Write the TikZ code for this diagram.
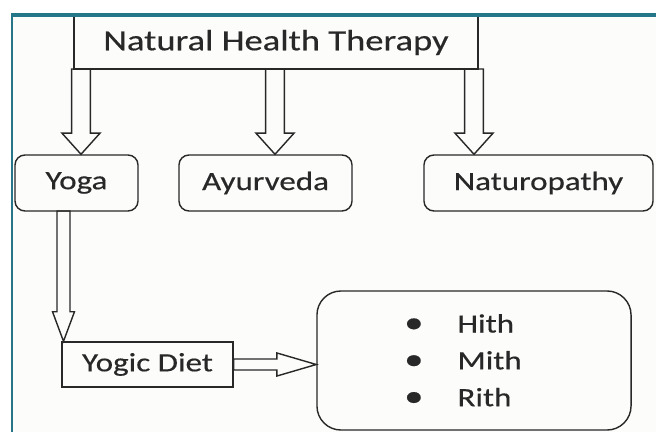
\documentclass[tikz,border=0pt]{standalone}
\usepackage{fontspec}
\setmainfont{Carlito}[FakeStretch=1.25,FakeBold=0.4]
\usetikzlibrary{calc}
\definecolor{frameteal}{RGB}{38,118,138}
\definecolor{ink}{RGB}{40,40,40}
\definecolor{paper}{RGB}{252,252,250}
\tikzset{
  box/.style={draw=ink, line width=1pt, rounded corners=2.5mm, minimum height=1.4cm,
    inner sep=0pt, text=ink, font=\fontsize{18.8}{22}\selectfont},
  sqbox/.style={box, sharp corners},
  hollow/.style n args={3}{draw=ink, line width=1pt, line join=miter, to path={
    ($(\tikztostart)!#1!90:(\tikztotarget)$)
    -- ($(\tikztotarget)!#3!(\tikztostart)!#1!-90:(\tikztostart)$)
    -- ($(\tikztotarget)!#3!(\tikztostart)!#2!-90:(\tikztostart)$)
    -- (\tikztotarget)
    -- ($(\tikztotarget)!#3!(\tikztostart)!#2!90:(\tikztostart)$)
    -- ($(\tikztotarget)!#3!(\tikztostart)!#1!90:(\tikztostart)$)
    -- ($(\tikztostart)!#1!-90:(\tikztotarget)$) -- cycle}}
}
\begin{document}
\begin{tikzpicture}[x=0.025cm,y=-0.025cm]
  \useasboundingbox (0,0) rectangle (656,432);
  \fill[paper] (12,15) rectangle (656,432);
  % Boxes
  \node[sqbox, minimum width=10.1cm, minimum height=1.325cm, font=\fontsize{20.8}{24}\selectfont] (title) at (276,42.5) {Natural Health Therapy\hspace{0.25cm}};
  \node[box, minimum width=3.075cm] (yoga) at (76.5,183) {Yoga};
  \node[box, minimum width=4.325cm] (ayur) at (265.5,183) {Ayurveda};
  \node[box, minimum width=5.725cm] (natu) at (538.5,183) {Naturopathy};
  \node[sqbox, minimum width=4.275cm, minimum height=1.125cm] (diet) at (147.5,364.5) {\raisebox{-0.12cm}{Yogic Diet}};
  \node[box, rounded corners=6mm, minimum width=7.85cm, minimum height=3.475cm] (list) at (474,360.5) {};
  \node[text=ink, font=\fontsize{18.8}{26.2}\selectfont] (items) at (463,362)
    {\begin{tabular}{@{}c@{\hspace{0.85cm}}l@{}}
       {\fontsize{22}{22}\selectfont •} & Hith\\
       {\fontsize{22}{22}\selectfont •} & Mith\\
       {\fontsize{22}{22}\selectfont •} & Rith
     \end{tabular}};
  % Arrows
  \coordinate (a1) at (81,69);
  \coordinate (a2) at (275,69);
  \coordinate (a3) at (474,69);
  \coordinate (y1) at (63.5,211);
  \draw[hollow={6.7pt}{13.5pt}{15pt}] (a1) to (yoga.north -| a1);
  \draw[hollow={6.7pt}{13.5pt}{15pt}] (a2) to (ayur.north -| a2);
  \draw[hollow={6.7pt}{13.5pt}{15pt}] (a3) to (natu.north -| a3);
  \draw[hollow={4.6pt}{7.8pt}{21pt}] (y1) to (diet.north -| y1);
  \draw[hollow={3.9pt}{8.2pt}{28pt}] (diet.east) to (list.west |- diet.east);
  % Frame
  \draw[frameteal, line width=2.8pt] (11,15) -- (656,15);
  \draw[frameteal, line width=1.4pt] (12,15) -- (12,432);
\end{tikzpicture}
\end{document}
